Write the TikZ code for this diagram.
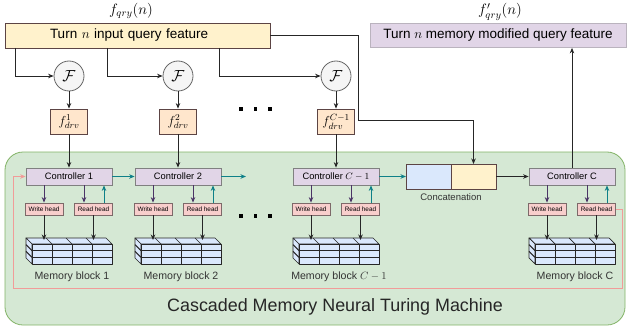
\RequirePackage{fix-cm}
\documentclass[tikz,border=0pt]{standalone}
\usepackage{amsmath}
\usepackage{fontspec}
\setmainfont{Liberation Sans}
\usepackage{xcolor}
\usetikzlibrary{calc,
	positioning,
	arrows.meta}

\definecolor{inyellow}{HTML}{FFF2CC}
\definecolor{lavender}{HTML}{E1D5E7}
\definecolor{peach}{HTML}{FFE6CC}
\definecolor{rosy}{HTML}{F8CECC}
\definecolor{skyblue}{HTML}{DAE8FC}
\definecolor{mint}{HTML}{D5E8D4}
\definecolor{mintedge}{HTML}{82B366}
\definecolor{edgec}{HTML}{5C4444}
\definecolor{tealc}{HTML}{0E8088}
\definecolor{purpc}{HTML}{4B3466}
\definecolor{pinkc}{HTML}{F19C99}

\tikzset{
	>={Stealth[length=5.5pt, width=4.5pt]},
	conn/.style={->, line width=0.8pt, black!85},
	tealarr/.style={->, line width=0.8pt, tealc},
	purparr/.style={->, line width=0.8pt, purpc},
	pinkarr/.style={->, line width=0.8pt, pinkc},
	inbox/.style={draw=edgec, fill=inyellow, line width=0.8pt, inner sep=0pt, outer sep=0pt,
		font=\fontsize{13.5}{16}\selectfont},
	outbox/.style={draw=lavender!60!gray, fill=lavender, line width=0.8pt, inner sep=0pt,
		minimum width=256pt, minimum height=24pt, font=\fontsize{13.5}{16}\selectfont},
	fcirc/.style={circle, draw=black!60, fill=black!4, line width=0.8pt, minimum size=30pt,
		inner sep=0pt, font=\fontsize{16}{18}\selectfont},
	drvbox/.style={draw=edgec, fill=peach, line width=0.8pt, minimum width=37pt, minimum height=25pt,
		inner sep=0pt, font=\fontsize{13}{15}\selectfont},
	ctrlbox/.style={draw=black!50, fill=lavender, line width=0.8pt, minimum width=86pt, minimum height=17pt,
		inner sep=0pt, font=\fontsize{9.3}{11}\selectfont},
	headbox/.style={draw=edgec!80, fill=rosy, line width=0.8pt, minimum width=38pt, minimum height=12pt,
		inner sep=0pt, font=\fontsize{6.4}{7}\selectfont},
	catbox/.style={draw=edgec, line width=0.8pt, minimum width=45pt, minimum height=25pt,
		inner sep=0pt, outer sep=0pt},
	memface/.style={draw=black!85, fill=skyblue, line width=0.7pt, line join=round},
	memgrid/.style={draw=black!85, line width=0.7pt},
	memrow/.style={draw=black!85, line width=1.1pt},
	memlbl/.style={font=\fontsize{10.6}{12}\selectfont, text=black!80},
	mathlbl/.style={font=\fontsize{15}{17}\selectfont, inner sep=0pt},
	machine/.style={draw=mintedge, fill=mint, line width=0.8pt, rounded corners=18pt}
}

\begin{document}
\begin{tikzpicture}[x=1pt, y=-1pt]
	\useasboundingbox (0, 0) rectangle (628, 329);
	\draw[machine] (5, 152) rectangle (625, 325);
	\node[font=\fontsize{17.9}{20}\selectfont, text=black!85] (title) at (335, 307) {Cascaded Memory Neural Turing Machine};

	\node[inbox, anchor=west, minimum height=25pt, text width=265pt, align=left] (inp) at (5, 35.5) {\hspace*{45pt}Turn $n$ input query feature};
	\node[outbox] (outp) at (498, 35.5) {Turn $n$ memory modified query feature};
	\node[mathlbl, above=4pt of inp.north, xshift=-6.5pt] (fin) {$f_{qry}(n)$};
	\node[mathlbl, above=2.5pt of outp.north, xshift=2pt] (fout) {$f'_{qry}(n)$};

	\foreach \cx/\i/\up in {69/1/1, 178/2/2, 336/3/C-1} {
		\node[fcirc] (F\i) at (\cx, 76) {$\mathcal{F}$};
		\node[drvbox] (drv\i) at (\cx, 121.5) {$f^{\up}_{drv}$};
		\draw[conn] (F\i) -- (drv\i);
	}
	\foreach \i/\dx in {1/10, 2/102, 3/214}
		\draw[conn] ([xshift=\dx pt]inp.south west) |- (F\i);

	\foreach \cx/\i/\lbl in {69/1/1, 178/2/2, 336/3/{$C-1$}, 572/4/C} {
		\node[ctrlbox] (ctrl\i) at (\cx, 176.5) {Controller \lbl};
		\node[headbox] (wh\i) at (\cx-25, 209) {Write head};
		\node[headbox] (rh\i) at (\cx+24.5, 209) {Read head};
		\begin{scope}[shift={(\cx, 0)}]
			\filldraw[memface] (-43, 238) -- (37, 238) -- (43, 244) -- (-37, 244) -- cycle;
			\filldraw[memface] (-43, 238) -- (-37, 244) -- (-37, 264) -- (-43, 258) -- cycle;
			\filldraw[memface] (-37, 244) rectangle (43, 264);
			\foreach \k in {1, 2, 3} {
				\draw[memgrid] (-37+20*\k, 244) -- (-37+20*\k, 264);
				\draw[memgrid] (-43+20*\k, 238) -- (-37+20*\k, 244);
			}
			\foreach \k in {1, 2} {
				\draw[memrow] (-37, 244+6.667*\k) -- (43, 244+6.667*\k);
				\draw[memrow] (-43, 238+6.667*\k) -- (-37, 244+6.667*\k);
			}
		\end{scope}
		\coordinate (memtop\i) at (\cx, 240);
		\node[memlbl] (ml\i) at (\cx+3, 277) {Memory block \lbl};
		\draw[purparr] (ctrl\i.south -| wh\i) -- (wh\i);
		\draw[purparr] ($(ctrl\i.south)+(15, 0)$) -- ($(rh\i.north)+(-9.5, 0)$);
		\draw[tealarr] ($(rh\i.north)+(10.5, 0)$) -- ($(ctrl\i.south)+(35, 0)$);
		\draw[conn] (wh\i) -- (wh\i |- memtop\i);
		\draw[conn] (rh\i) -- (rh\i |- memtop\i);
	}
	\foreach \i in {1, 2, 3}
		\draw[conn] (drv\i) -- (ctrl\i);

	% concatenation of the last controller output with the query
	\node[catbox, fill=skyblue] (catA) at (428.5, 176.5) {};
	\node[catbox, fill=inyellow, right=0pt of catA] (catB) {};
	\node[font=\fontsize{9.5}{11}\selectfont, text=black!80] (catlbl) at (451, 197) {Concatenation};

	\coordinate (teal2end) at (246, 176.5);
	\draw[tealarr] (ctrl1) -- (ctrl2);
	\draw[tealarr] (ctrl2) -- (teal2end);
	\draw[tealarr] (ctrl3) -- (catA);
	\draw[conn] (catB) -- (ctrl4);
	\draw[conn] (ctrl4.north) -- (ctrl4.north |- outp.south);

	\coordinate (bend) at (358, 120.5);
	\draw[conn, -] (inp.east) -| (bend);
	\draw[conn] (bend) -| (catB.north);

	\coordinate (loopR) at (622, 288);
	\coordinate (loopL) at (13, 288);
	\draw[pinkarr] (rh4.east) -| (loopR) -- (loopL) |- (ctrl1.west);

	\foreach \dy in {109, 216}
		\foreach \dx in {241, 255.5, 270}
			\fill (\dx-1.8, \dy-1.8) rectangle (\dx+1.8, \dy+1.8);
\end{tikzpicture}
\end{document}
